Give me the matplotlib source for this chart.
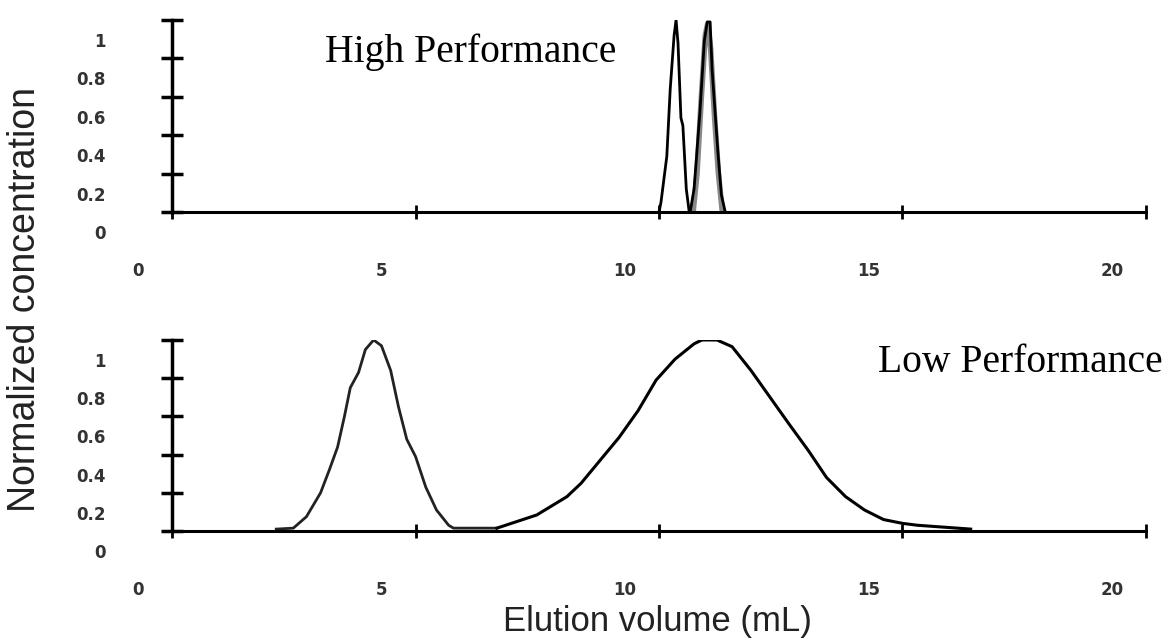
import matplotlib.pyplot as plt
from matplotlib.transforms import ScaledTranslation

# elution volume (mL) and normalized concentration
hp_x1 = [10.00, 10.04, 10.16, 10.23, 10.31, 10.35, 10.39, 10.45, 10.49, 10.56, 10.62]
hp_y1 = [0.0, 0.05, 0.29, 0.64, 0.92, 1.0, 0.88, 0.49, 0.45, 0.12, 0.0]
hp_x2 = [10.64, 10.72, 10.84, 10.93, 10.99, 11.05, 11.09, 11.21, 11.28, 11.36]
hp_y2 = [0.0, 0.12, 0.52, 0.89, 0.99, 0.99, 0.74, 0.31, 0.09, 0.0]
hp_x2g = [10.70, 10.78, 10.87, 10.95, 11.00, 11.06, 11.14, 11.22, 11.30]
hp_y2g = [0.0, 0.2, 0.6, 0.92, 0.98, 0.85, 0.5, 0.2, 0.0]

lp_xa = [2.14, 2.49, 2.76, 3.05, 3.23, 3.40, 3.54, 3.66, 3.83, 3.97, 4.14, 4.30,
         4.49, 4.65, 4.82, 5.00, 5.21, 5.43, 5.68, 5.78, 6.67]
lp_ya = [0.01, 0.015, 0.075, 0.2, 0.32, 0.44, 0.6, 0.75, 0.83, 0.95, 1.0, 0.97,
         0.84, 0.65, 0.48, 0.39, 0.23, 0.11, 0.03, 0.015, 0.015]
lp_xb = [6.67, 7.49, 8.11, 8.40, 8.79, 9.18, 9.57, 9.94, 10.33, 10.72, 10.88, 11.19,
         11.50, 11.89, 12.28, 12.67, 13.07, 13.44, 13.83, 14.22, 14.61, 15.00, 15.31, 16.40]
lp_yb = [0.015, 0.084, 0.18, 0.25, 0.37, 0.49, 0.63, 0.79, 0.90, 0.98, 1.0, 1.0,
         0.965, 0.84, 0.70, 0.56, 0.42, 0.28, 0.18, 0.11, 0.06, 0.04, 0.03, 0.01]

xticks = [0, 5, 10, 15, 20]
xlabels = ['0', '5', '10', '15', '20']
yticks = [0, 0.2, 0.4, 0.6, 0.8, 1.0]
ylabels = ['0', '0.2', '0.4', '0.6', '0.8', '1']

fig = plt.figure(figsize=(11.72, 6.41), dpi=100)
ax_top = fig.add_axes([0.1468, 0.6693, 0.831, 0.2995])
ax_bot = fig.add_axes([0.1468, 0.1716, 0.831, 0.298])

ax_top.plot(hp_x1, hp_y1, color='black', lw=2)
ax_top.plot(hp_x2g, hp_y2g, color='#888888', lw=4)
ax_top.plot(hp_x2, hp_y2, color='black', lw=2)

ax_bot.plot(lp_xa, lp_ya, color='#222222', lw=2)
ax_bot.plot(lp_xb, lp_yb, color='black', lw=2.2)

for ax in (ax_top, ax_bot):
    ax.set_xlim(0, 20)
    ax.set_ylim(0, 1.0)
    ax.spines['top'].set_visible(False)
    ax.spines['right'].set_visible(False)
    ax.spines['left'].set_linewidth(2.5)
    ax.spines['bottom'].set_linewidth(2.2)
    ax.set_xticks(xticks, xlabels, fontsize=12, color='#333333', family='DejaVu Sans',
                  weight='bold')
    ax.set_yticks(yticks, ylabels, fontsize=12, color='#333333', family='DejaVu Sans',
                  weight='bold')
    ax.tick_params(axis='x', direction='inout', length=10, width=2, pad=31)
    ax.tick_params(axis='y', direction='inout', length=16, width=2.5, pad=40)
    # the scan has its tick labels shifted off the tick marks
    dx = ScaledTranslation(-0.34, 0, fig.dpi_scale_trans)
    dy = ScaledTranslation(0, -0.20, fig.dpi_scale_trans)
    for lab in ax.get_xticklabels():
        lab.set_transform(lab.get_transform() + dx)
    for lab in ax.get_yticklabels():
        lab.set_transform(lab.get_transform() + dy)

fig.text(0.277, 0.919, 'High Performance', family='Liberation Serif', fontsize=28.5,
         va='center', ha='left')
fig.text(0.749, 0.434, 'Low Performance', family='Liberation Serif', fontsize=28.5,
         va='center', ha='left')

fig.text(0.021, 0.532, 'Normalized concentration', family='Liberation Sans', fontsize=27,
         rotation=90, va='center', ha='center', color='#222222')
fig.text(0.561, 0.004, 'Elution volume (mL)', family='Liberation Sans', fontsize=25,
         va='bottom', ha='center', color='#222222')

fig.savefig('out.png', dpi=100)
